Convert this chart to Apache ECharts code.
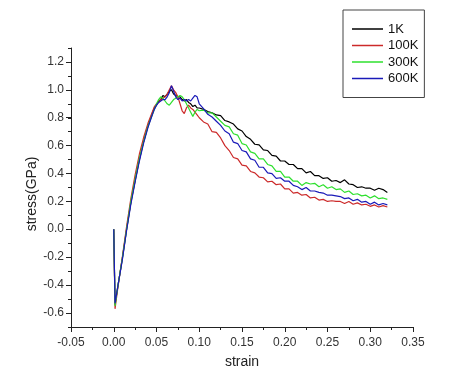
<!DOCTYPE html>
<html>
<head>
<meta charset="utf-8">
<script src="https://cdn.jsdelivr.net/npm/echarts@6/dist/echarts.min.js"></script>
<style>
  html, body { margin: 0; padding: 0; background: #fff; }
  #main { width: 455px; height: 378px; }
</style>
</head>
<body>
<div id="main"></div>
<script>
// strain values shared by all curves
var strain = [
  0, 0.0015, 0.005, 0.01, 0.015, 0.02, 0.025, 0.03, 0.035, 0.04, 0.045,
  0.0475, 0.05, 0.0525, 0.055, 0.0575, 0.06, 0.0625, 0.065, 0.0675, 0.07, 0.0725,
  0.075, 0.0775, 0.08, 0.0825, 0.085, 0.0875, 0.09, 0.0925, 0.095, 0.0975, 0.1,
  0.105, 0.11, 0.115, 0.12, 0.125, 0.13, 0.135, 0.14, 0.145, 0.15,
  0.155, 0.16, 0.165, 0.17, 0.175, 0.18, 0.185, 0.19, 0.195, 0.2,
  0.205, 0.21, 0.215, 0.22, 0.225, 0.23, 0.235, 0.24, 0.245, 0.25,
  0.255, 0.26, 0.265, 0.27, 0.275, 0.28, 0.285, 0.29, 0.295, 0.3,
  0.305, 0.31, 0.315, 0.32
];

var seriesNames = ['1K', '100K', '300K', '600K'];
var seriesColors = ['#000000', '#cc2a2a', '#2ee02e', '#1a1ab8'];

// stress (GPa)
var stress1K = [
  0, -0.54, -0.40, -0.21, 0.00, 0.19, 0.35, 0.50, 0.63, 0.74, 0.83,
  0.87, 0.89, 0.92, 0.93, 0.96, 0.95, 0.97, 0.99, 1.00, 0.97, 0.96,
  0.95, 0.95, 0.93, 0.92, 0.93, 0.91, 0.90, 0.88, 0.89, 0.87, 0.87,
  0.86, 0.845, 0.835, 0.82, 0.815, 0.78, 0.77, 0.755, 0.72, 0.705,
  0.665, 0.645, 0.61, 0.605, 0.57, 0.565, 0.53, 0.525, 0.49, 0.49,
  0.465, 0.465, 0.435, 0.435, 0.405, 0.415, 0.385, 0.385, 0.365, 0.37,
  0.345, 0.35, 0.335, 0.355, 0.325, 0.32, 0.30, 0.305, 0.295, 0.295,
  0.28, 0.295, 0.285, 0.265
];
var stress100K = [
  0, -0.57, -0.41, -0.20, 0.02, 0.22, 0.39, 0.54, 0.66, 0.76, 0.84,
  0.88, 0.90, 0.91, 0.93, 0.94, 0.95, 0.97, 1.00, 1.03, 1.00, 0.98,
  0.95, 0.90, 0.85, 0.83, 0.87, 0.89, 0.87, 0.86, 0.84, 0.82, 0.80,
  0.77, 0.755, 0.70, 0.695, 0.655, 0.60, 0.565, 0.515, 0.505, 0.46,
  0.455, 0.415, 0.405, 0.375, 0.37, 0.34, 0.345, 0.32, 0.325, 0.29,
  0.29, 0.26, 0.265, 0.245, 0.25, 0.225, 0.23, 0.21, 0.215, 0.2,
  0.205, 0.2, 0.2, 0.185, 0.2, 0.18, 0.19, 0.175, 0.18, 0.165,
  0.175, 0.16, 0.17, 0.16
];
var stress300K = [
  0, -0.55, -0.40, -0.21, 0.00, 0.20, 0.36, 0.51, 0.63, 0.74, 0.82,
  0.86, 0.90, 0.93, 0.95, 0.94, 0.92, 0.90, 0.89, 0.91, 0.93, 0.94,
  0.95, 0.96, 0.95, 0.93, 0.90, 0.87, 0.84, 0.81, 0.84, 0.86, 0.85,
  0.855, 0.835, 0.835, 0.805, 0.775, 0.745, 0.735, 0.685, 0.675, 0.615,
  0.605, 0.555, 0.545, 0.505, 0.505, 0.465, 0.455, 0.415, 0.415, 0.375,
  0.375, 0.345, 0.345, 0.315, 0.335, 0.325, 0.33, 0.305, 0.32, 0.295,
  0.305, 0.285, 0.29, 0.265, 0.275, 0.25, 0.255, 0.24, 0.245, 0.225,
  0.24, 0.22, 0.225, 0.215
];
var stress600K = [
  0, -0.53, -0.40, -0.22, -0.01, 0.18, 0.34, 0.49, 0.62, 0.73, 0.82,
  0.86, 0.89, 0.91, 0.92, 0.93, 0.93, 0.95, 0.98, 1.03, 0.99, 0.95,
  0.93, 0.94, 0.92, 0.93, 0.92, 0.93, 0.92, 0.94, 0.96, 0.95, 0.90,
  0.865, 0.825, 0.805, 0.775, 0.745, 0.705, 0.685, 0.625, 0.615, 0.565,
  0.555, 0.505, 0.495, 0.445, 0.445, 0.405, 0.4, 0.365, 0.37, 0.345,
  0.345, 0.315, 0.305, 0.285, 0.3, 0.275, 0.275, 0.265, 0.26, 0.245,
  0.245, 0.24, 0.235, 0.22, 0.225, 0.205, 0.215, 0.195, 0.2, 0.18,
  0.195, 0.175, 0.185, 0.175
];
var stressData = [stress1K, stress100K, stress300K, stress600K];

function pairs(ys) {
  return strain.map(function (x, i) { return [x, ys[i]]; });
}

var axisColor = '#222';
var font = 'Liberation Sans, Arial, sans-serif';

var myChart = echarts.init(document.getElementById('main'), null, { renderer: 'canvas' });
myChart.setOption({
  animation: false,
  backgroundColor: '#fff',
  textStyle: { fontFamily: font },
  grid: [
    { left: 71, right: 42, top: 48, bottom: 51 },
    // second grid only carries the long (labelled) y ticks
    { left: 71, right: 42, top: 61.9, bottom: 65.2 }
  ],
  // y title sits a little below the axis middle in the original
  graphic: [{
    type: 'text',
    x: 32,
    y: 194,
    rotation: Math.PI / 2,
    style: {
      text: 'stress(GPa)',
      align: 'center',
      verticalAlign: 'middle',
      fontSize: 14,
      fontFamily: font,
      fill: '#222'
    }
  }],
  legend: {
    orient: 'vertical',
    left: 343,
    top: 10,
    padding: [12, 6, 12, 9],
    borderColor: '#444',
    borderWidth: 1,
    icon: 'rect',
    itemWidth: 31,
    itemHeight: 1.5,
    itemGap: 2.5,
    textStyle: { fontSize: 13, lineHeight: 14, color: '#111', fontFamily: font },
    data: seriesNames
  },
  xAxis: [
    {
      type: 'value',
      gridIndex: 0,
      min: -0.05,
      max: 0.35,
      interval: 0.05,
      name: 'strain',
      nameLocation: 'middle',
      nameGap: 28,
      nameTextStyle: { fontSize: 14, color: '#222' },
      axisLine: { onZero: false, lineStyle: { color: axisColor, width: 1 } },
      axisTick: { length: 5, lineStyle: { color: axisColor } },
      minorTick: { show: true, splitNumber: 2, length: 3, lineStyle: { color: axisColor } },
      axisLabel: {
        fontSize: 12, color: '#333', margin: 10,
        formatter: function (v) { return v.toFixed(2); }
      },
      splitLine: { show: false }
    },
    {
      type: 'value', gridIndex: 1, min: -0.05, max: 0.35, show: false
    }
  ],
  yAxis: [
    {
      type: 'value',
      gridIndex: 0,
      min: -0.7,
      max: 1.3,
      interval: 0.1,
      axisLine: { show: true, onZero: false, lineStyle: { color: axisColor, width: 1 } },
      axisTick: { show: true, length: 3, lineStyle: { color: axisColor } },
      axisLabel: { show: false },
      splitLine: { show: false }
    },
    {
      type: 'value',
      gridIndex: 1,
      min: -0.6,
      max: 1.2,
      interval: 0.2,
      axisLine: { show: false, onZero: false },
      axisTick: { show: true, length: 5, lineStyle: { color: axisColor } },
      axisLabel: {
        fontSize: 12, color: '#333', margin: 7,
        formatter: function (v) { return v.toFixed(1); }
      },
      splitLine: { show: false }
    }
  ],
  series: seriesNames.map(function (name, i) {
    return {
      name: name,
      type: 'line',
      xAxisIndex: 0,
      yAxisIndex: 0,
      showSymbol: false,
      symbol: 'none',
      color: seriesColors[i],
      lineStyle: { width: 1.2, color: seriesColors[i] },
      data: pairs(stressData[i])
    };
  })
});
</script>
</body>
</html>
